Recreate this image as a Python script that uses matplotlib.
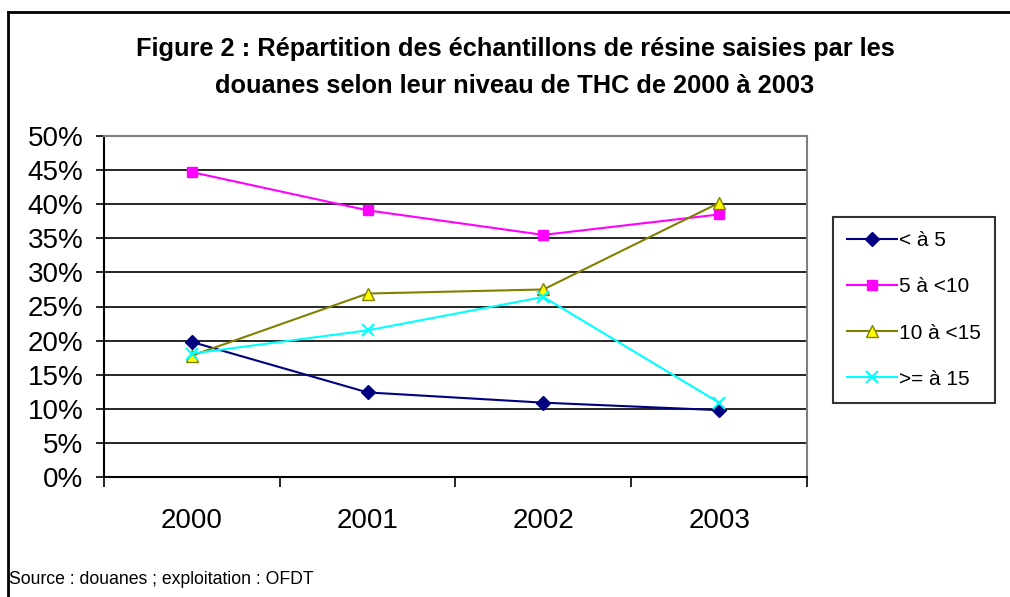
import matplotlib.pyplot as plt
from matplotlib.lines import Line2D
from matplotlib.ticker import FixedLocator, PercentFormatter

plt.rcParams['font.family'] = ['Liberation Sans', 'DejaVu Sans']

# Donnees (en %)
annees = ['2000', '2001', '2002', '2003']
moins_5 = [19.8, 12.4, 10.9, 9.8]
de_5_a_10 = [44.7, 39.1, 35.5, 38.5]
de_10_a_15 = [17.8, 26.9, 27.5, 40.2]
plus_15 = [18.1, 21.5, 26.4, 10.9]

fig = plt.figure(figsize=(10.1, 5.97), dpi=100)
ax = fig.add_axes([104 / 1010, 1 - 477 / 597, 703 / 1010, 341 / 597])

x = range(len(annees))
ax.plot(x, moins_5, color='#000080', marker='D', markersize=7, lw=1.5,
        mfc='#000080', mec='#000080', label='< à 5', zorder=3)
ax.plot(x, de_5_a_10, color='#FF00FF', marker='s', markersize=7.5, lw=1.5,
        mfc='#FF00FF', mec='#FF00FF', label='5 à <10', zorder=3)
ax.plot(x, de_10_a_15, color='#808000', marker='^', markersize=8.5, lw=1.5,
        mfc='#FFFF00', mec='#808000', label='10 à <15', zorder=3)
ax.plot(x, plus_15, color='#00FFFF', marker='x', markersize=9, lw=1.5,
        mew=1.5, label='>= à 15', zorder=3)

ax.set_xlim(-0.5, 3.5)
ax.set_ylim(0, 50)
ax.set_yticks(range(0, 51, 5))
ax.yaxis.set_major_formatter(PercentFormatter(decimals=0))
ax.grid(axis='y', color='black', lw=1.2)
ax.set_axisbelow(True)

# ticks entre les categories, libelles au centre
ax.xaxis.set_major_locator(FixedLocator([-0.5, 0.5, 1.5, 2.5, 3.5]))
ax.xaxis.set_minor_locator(FixedLocator(list(x)))
ax.set_xticklabels([], minor=False)
ax.set_xticklabels(annees, minor=True)
ax.tick_params(axis='x', which='major', length=7, width=1.2, direction='out')
ax.tick_params(axis='x', which='minor', length=0, pad=22, labelsize=20)
ax.tick_params(axis='y', length=6, width=1.2, pad=9, labelsize=20)

for s in ['top', 'right']:
    ax.spines[s].set_color('#808080')
    ax.spines[s].set_linewidth(1.5)
for s in ['left', 'bottom']:
    ax.spines[s].set_linewidth(1.5)

leg = fig.legend(loc='center', bbox_to_anchor=(914 / 1010, 1 - 310 / 597),
                 fontsize=15, frameon=True, fancybox=False, edgecolor='black',
                 handlelength=2.4, labelspacing=1.3, borderpad=0.68,
                 handletextpad=0.1)
leg.get_frame().set_linewidth(1.5)

fig.text(515 / 1010, 1 - 49 / 597,
         'Figure 2 : Répartition des échantillons de résine saisies par les',
         ha='center', va='center', fontsize=18.3, fontweight='bold')
fig.text(515 / 1010, 1 - 86 / 597,
         'douanes selon leur niveau de THC de 2000 à 2003',
         ha='center', va='center', fontsize=18.3, fontweight='bold')
fig.text(9 / 1010, 1 - 580 / 597, 'Source : douanes ; exploitation : OFDT',
         ha='left', va='center', fontsize=12.7)

# cadre de la figure
fig.add_artist(Line2D([8 / 1010, 1], [1 - 12 / 597, 1 - 12 / 597], color='black', lw=2))
fig.add_artist(Line2D([8 / 1010, 8 / 1010], [1 - 12 / 597, 0], color='black', lw=2))

fig.savefig('out.png', dpi=100)
